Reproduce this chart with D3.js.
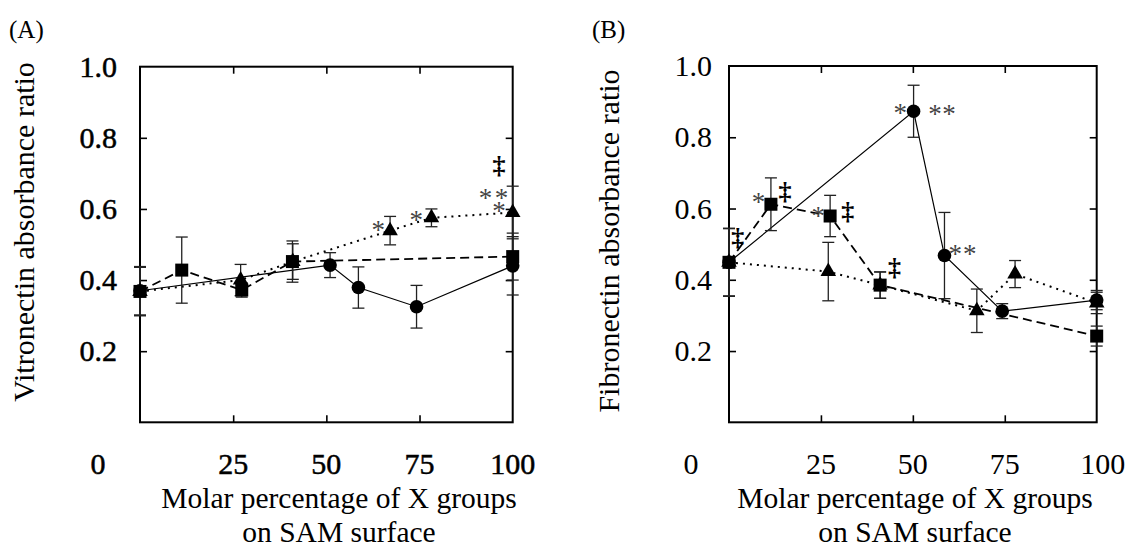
<!DOCTYPE html>
<html>
<head>
<meta charset="utf-8">
<script src="https://cdn.jsdelivr.net/npm/d3@7"></script>
<style>
  html, body { margin: 0; padding: 0; background: #fff; }
  svg { display: block; }
  svg text { font-family: "Liberation Serif", "Times New Roman", Times, serif; }
</style>
</head>
<body>
<svg id="chart" width="1126" height="549"></svg>
<script>
// ---------- DATA ----------
const xTickValues = [0, 25, 50, 75, 100];
const yTickValues = [0.2, 0.4, 0.6, 0.8, 1.0];
const yTickLabels = ["0.2", "0.4", "0.6", "0.8", "1.0"];
const xTitleLines = ["Molar percentage of X groups", "on SAM surface"];

// Panel A: Vitronectin
const aCircleX   = [0, 51.0, 58.6, 74.2, 100];
const aCircleY   = [0.370, 0.442, 0.379, 0.325, 0.440];
const aCircleErr = [0.068, 0.035, 0.058, 0.060, 0.082];
const aSquareX   = [0, 11.2, 27.3, 40.9, 100];
const aSquareY   = [0.368, 0.428, 0.372, 0.452, 0.466];
const aSquareErr = [0.068, 0.093, 0.020, 0.058, 0.066];
const aTriX      = [0, 27.0, 41.0, 67.1, 78.2, 100];
const aTriY      = [0.368, 0.400, 0.452, 0.539, 0.575, 0.590];
const aTriErr    = [0.068, 0.044, 0.050, 0.040, 0.025, 0.074];
const aMarks = [
  {x: 63.9, y: 0.563, t: "*"},
  {x: 74.1, y: 0.592, t: "*"},
  {x: 92.7, y: 0.653, t: "*"},
  {x: 97.0, y: 0.653, t: "*"},
  {x: 96.3, y: 0.616, t: "*"},
  {x: 96.3, y: 0.721, t: "‡"}
];

// Panel B: Fibronectin
const bCircleX   = [0, 50.2, 58.6, 74.3, 100];
const bCircleY   = [0.449, 0.873, 0.468, 0.312, 0.343];
const bCircleErr = [0.095, 0.073, 0.121, 0.021, 0.027];
const bSquareX   = [0, 11.4, 27.5, 41.1, 100];
const bSquareY   = [0.449, 0.612, 0.579, 0.385, 0.242];
const bSquareErr = [0.095, 0.074, 0.058, 0.037, 0.028];
const bTriX      = [0, 27.0, 41.1, 67.4, 77.8, 100];
const bTriY      = [0.449, 0.423, 0.385, 0.313, 0.416, 0.335];
const bTriErr    = [0.095, 0.082, 0.037, 0.061, 0.038, 0.030];
const bMarks = [
  {x: 2.4,  y: 0.517, t: "‡"},
  {x: 8.0,  y: 0.640, t: "*"},
  {x: 15.2, y: 0.647, t: "‡"},
  {x: 24.3, y: 0.601, t: "*"},
  {x: 32.3, y: 0.591, t: "‡"},
  {x: 45.0, y: 0.432, t: "‡"},
  {x: 46.6, y: 0.891, t: "*"},
  {x: 56.0, y: 0.886, t: "*"},
  {x: 59.8, y: 0.886, t: "*"},
  {x: 61.5, y: 0.493, t: "*"},
  {x: 65.5, y: 0.493, t: "*"}
];

// ---------- DRAW ----------
const FONT = "Liberation Serif";
const svg = d3.select("#chart");

function zip(xs, ys, es) { return xs.map((x, i) => ({x: x, y: ys[i], e: es[i]})); }

function txt(sel) { return sel.attr("font-family", FONT); }

function panel(cfg) {
  const x = d3.scaleLinear().domain([0, 100]).range([cfg.left, cfg.right]);
  const y = d3.scaleLinear().domain([0, 1]).range([cfg.bottom, cfg.top]);
  const g = svg.append("g");

  // panel label
  txt(g.append("text")).attr("x", cfg.tagX).attr("y", 38).attr("font-size", 25).text(cfg.tag);

  // ticks (inward on all 4 sides) via d3 axes
  const inner = [25, 50, 75];
  const yIn = [0.2, 0.4, 0.6, 0.8];
  const axB = g.append("g").attr("transform", `translate(0,${cfg.bottom})`)
    .call(d3.axisBottom(x).tickValues(inner).tickSize(-7).tickFormat(""));
  const axT = g.append("g").attr("transform", `translate(0,${cfg.top})`)
    .call(d3.axisTop(x).tickValues(inner).tickSize(-7).tickFormat(""));
  const axL = g.append("g").attr("transform", `translate(${cfg.left},0)`)
    .call(d3.axisLeft(y).tickValues(yIn).tickSize(-7).tickFormat(""));
  const axR = g.append("g").attr("transform", `translate(${cfg.right},0)`)
    .call(d3.axisRight(y).tickValues(yIn).tickSize(-7).tickFormat(""));
  [axB, axT, axL, axR].forEach(a => {
    a.select(".domain").remove();
    a.selectAll("line").attr("stroke", "#000").attr("stroke-width", 1.6);
  });

  // frame
  g.append("rect").attr("x", cfg.left).attr("y", cfg.top)
    .attr("width", cfg.right - cfg.left).attr("height", cfg.bottom - cfg.top)
    .attr("fill", "none").attr("stroke", "#000").attr("stroke-width", 2);

  // tick labels
  txt(g.selectAll(".yl").data(yTickValues).enter().append("text"))
    .attr("x", cfg.left - cfg.yLabGap).attr("y", d => y(d))
    .attr("dy", "0.34em").attr("text-anchor", "end")
    .attr("font-size", 30)
    .attr("stroke", cfg.boldTicks ? "#000" : "none").attr("stroke-width", cfg.boldTicks ? 0.5 : 0)
    .text((d, i) => yTickLabels[i]);
  txt(g.selectAll(".xl").data(xTickValues).enter().append("text"))
    .attr("x", d => x(d) + (d === 0 ? cfg.zeroShift : 0) + (d === 100 ? cfg.hundredShift : 0))
    .attr("y", 474).attr("text-anchor", "middle")
    .attr("font-size", 30)
    .attr("stroke", cfg.boldTicks ? "#000" : "none").attr("stroke-width", cfg.boldTicks ? 0.5 : 0)
    .text(d => String(d));

  // axis titles
  txt(g.append("text")).attr("transform", `translate(${cfg.yTitleX},${cfg.yTitleY}) rotate(-90)`)
    .attr("text-anchor", "middle").attr("font-size", 30).text(cfg.yTitle);
  txt(g.append("text")).attr("x", cfg.xTitleX).attr("y", 508).attr("text-anchor", "middle")
    .attr("font-size", 29.5).text(xTitleLines[0]);
  txt(g.append("text")).attr("x", cfg.xTitleX).attr("y", 542).attr("text-anchor", "middle")
    .attr("font-size", 29.5).text(xTitleLines[1]);

  const line = d3.line().x(d => x(d.x)).y(d => y(d.y));
  const circ = zip(cfg.cx, cfg.cy, cfg.ce);
  const sq = zip(cfg.sx, cfg.sy, cfg.se);
  const tri = zip(cfg.tx, cfg.ty, cfg.te);

  // lines
  g.append("path").datum(sq).attr("d", line).attr("fill", "none")
    .attr("stroke", "#000").attr("stroke-width", 1.8).attr("stroke-dasharray", "9,5");
  g.append("path").datum(tri).attr("d", line).attr("fill", "none")
    .attr("stroke", "#000").attr("stroke-width", 2).attr("stroke-dasharray", "2,5");
  g.append("path").datum(circ).attr("d", line).attr("fill", "none")
    .attr("stroke", "#000").attr("stroke-width", 1.2);

  // error bars
  const allPts = circ.concat(sq, tri);
  const eb = g.append("g").attr("stroke", "#222").attr("stroke-width", 1.3);
  allPts.forEach(p => {
    eb.append("line").attr("x1", x(p.x)).attr("x2", x(p.x)).attr("y1", y(p.y - p.e)).attr("y2", y(p.y + p.e));
    eb.append("line").attr("x1", x(p.x) - 6).attr("x2", x(p.x) + 6).attr("y1", y(p.y - p.e)).attr("y2", y(p.y - p.e));
    eb.append("line").attr("x1", x(p.x) - 6).attr("x2", x(p.x) + 6).attr("y1", y(p.y + p.e)).attr("y2", y(p.y + p.e));
  });

  // markers
  g.selectAll(".c").data(circ).enter().append("circle")
    .attr("cx", d => x(d.x)).attr("cy", d => y(d.y)).attr("r", 6.8).attr("fill", "#000");
  g.selectAll(".t").data(tri).enter().append("path")
    .attr("d", d3.symbol().type(d3.symbolTriangle).size(105))
    .attr("transform", d => `translate(${x(d.x)},${y(d.y)})`).attr("fill", "#000");
  g.selectAll(".s").data(sq).enter().append("rect")
    .attr("x", d => x(d.x) - 6.5).attr("y", d => y(d.y) - 6.5)
    .attr("width", 13).attr("height", 13).attr("fill", "#000");

  // significance marks
  txt(g.selectAll(".m").data(cfg.marks).enter().append("text"))
    .attr("x", d => x(d.x))
    .attr("y", d => y(d.y))
    .attr("dy", d => d.t === "*" ? "0.62em" : "0.3em")
    .attr("text-anchor", "middle")
    .attr("font-size", d => d.t === "*" ? 27 : 26)
    .attr("font-weight", d => d.t === "*" ? "normal" : "bold")
    .attr("fill", d => d.t === "*" ? "#444" : "#000")
    .text(d => d.t);
}

panel({
  left: 140, right: 512.7, top: 66.7, bottom: 422.3,
  tag: "(A)", tagX: 9, yLabGap: 23, zeroShift: -42, hundredShift: 0, boldTicks: true,
  yTitle: "Vitronectin absorbance ratio", yTitleX: 34, yTitleY: 232, xTitleX: 339,
  cx: aCircleX, cy: aCircleY, ce: aCircleErr,
  sx: aSquareX, sy: aSquareY, se: aSquareErr,
  tx: aTriX, ty: aTriY, te: aTriErr, marks: aMarks
});
panel({
  left: 729, right: 1096.7, top: 66, bottom: 422.3,
  tag: "(B)", tagX: 592, yLabGap: 17, zeroShift: -38, hundredShift: 6, boldTicks: false,
  yTitle: "Fibronectin absorbance ratio", yTitleX: 619, yTitleY: 241, xTitleX: 915,
  cx: bCircleX, cy: bCircleY, ce: bCircleErr,
  sx: bSquareX, sy: bSquareY, se: bSquareErr,
  tx: bTriX, ty: bTriY, te: bTriErr, marks: bMarks
});
</script>
</body>
</html>
